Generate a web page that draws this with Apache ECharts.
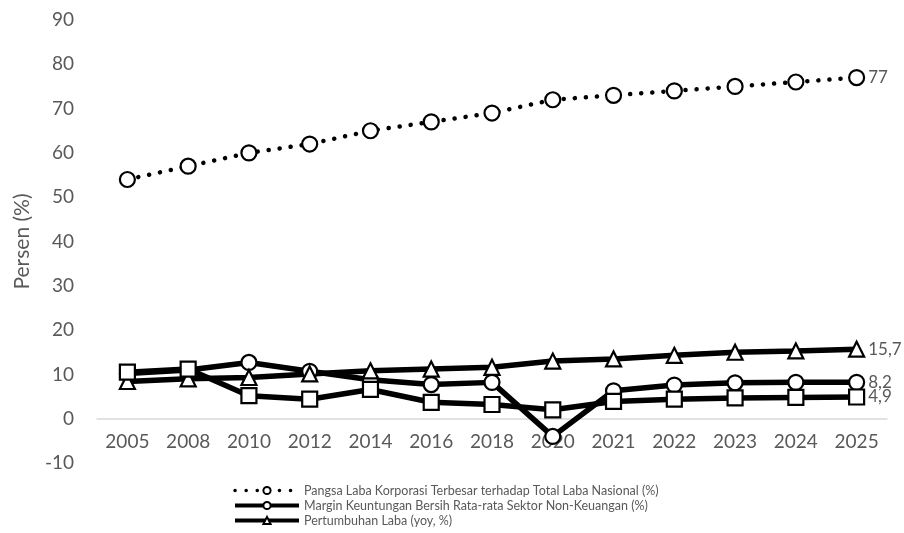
<!DOCTYPE html>
<html>
<head>
<meta charset="utf-8">
<script src="https://cdn.jsdelivr.net/npm/echarts@6/dist/echarts.min.js"></script>
<style>
  html, body { margin: 0; padding: 0; background: #fff; }
  #chart { width: 904px; height: 533px; }
</style>
</head>
<body>
<div id="chart"></div>
<script>
const years = ['2005', '2008', '2010', '2012', '2014', '2016', '2018', '2020', '2021', '2022', '2023', '2024', '2025']
const pangsaLaba = [54, 57, 60, 62, 65, 67, 69, 72, 73, 74, 75, 76, 77]
const marginLaba = [10.2, 11, 12.7, 10.7, 8.8, 7.7, 8.2, -4, 6.3, 7.6, 8.1, 8.2, 8.2]
const pertumbuhanLaba = [8.4, 9, 9.3, 10.1, 10.8, 11.2, 11.6, 13, 13.5, 14.3, 15, 15.3, 15.7]
const seriKeempat = [10.5, 11.2, 5.2, 4.4, 6.6, 3.7, 3.2, 2, 3.9, 4.4, 4.7, 4.8, 4.9]
const yTicks = { min: -10, max: 90, step: 10 }

const gray = '#595959'
const font = 'Lato, "Open Sans", sans-serif'

// only the last point carries a label, Excel-style, with comma decimals
function withEndLabel(values) {
  return values.map((v, i) => i === values.length - 1
    ? { value: v, label: { show: true } }
    : v)
}

function lineSeries(name, values, symbol, lineStyle) {
  return {
    name,
    type: 'line',
    data: withEndLabel(values),
    symbol,
    symbolSize: 15,
    showAllSymbol: true,
    itemStyle: { color: '#fff', borderColor: '#000', borderWidth: 2.2 },
    lineStyle,
    label: {
      show: false,
      position: 'right',
      distance: 3,
      color: gray,
      fontFamily: font,
      fontSize: 17,
      formatter: p => String(p.value).replace('.', ',')
    },
    emphasis: { disabled: true },
    animation: false
  }
}

const chart = echarts.init(document.getElementById('chart'))
chart.setOption({
  backgroundColor: '#fff',
  textStyle: { fontFamily: font },
  grid: { left: 97, right: 17, top: 20, bottom: 70 },
  legend: {
    orient: 'vertical',
    left: 228,
    top: 479,
    height: 80,
    itemWidth: 64,
    itemHeight: 9,
    itemGap: 2,
    textStyle: { color: gray, fontSize: 12.5, fontFamily: font },
    data: [
      { name: 'Pangsa Laba Korporasi Terbesar terhadap Total Laba Nasional (%)', lineStyle: { width: 3.5 } },
      { name: 'Margin Keuntungan Bersih Rata-rata Sektor Non-Keuangan (%)', lineStyle: { width: 4 } },
      { name: 'Pertumbuhan Laba (yoy, %)', lineStyle: { width: 4 } }
    ]
  },
  xAxis: {
    type: 'category',
    data: years,
    boundaryGap: true,
    axisLine: { onZero: true, lineStyle: { color: '#d9d9d9', width: 1.5 } },
    axisTick: { show: false },
    axisLabel: { color: gray, fontSize: 19, margin: -31, fontFamily: font }
  },
  yAxis: {
    type: 'value',
    min: yTicks.min,
    max: yTicks.max,
    interval: yTicks.step,
    name: 'Persen (%)',
    nameLocation: 'middle',
    nameGap: 64,
    nameTextStyle: { color: gray, fontSize: 21, fontFamily: font },
    splitLine: { show: false },
    axisLine: { show: false },
    axisTick: { show: false },
    axisLabel: { color: gray, fontSize: 19, margin: 23, fontFamily: font }
  },
  series: [
    lineSeries('Pangsa Laba Korporasi Terbesar terhadap Total Laba Nasional (%)', pangsaLaba, 'circle',
      { color: '#000', width: 4.5, type: [0.1, 11], cap: 'round' }),
    lineSeries('Margin Keuntungan Bersih Rata-rata Sektor Non-Keuangan (%)', marginLaba, 'circle',
      { color: '#000', width: 5.5 }),
    lineSeries('Pertumbuhan Laba (yoy, %)', pertumbuhanLaba, 'triangle',
      { color: '#000', width: 5.5 }),
    lineSeries('Seri 4', seriKeempat, 'rect',
      { color: '#000', width: 5.5 })
  ]
})
</script>
</body>
</html>
